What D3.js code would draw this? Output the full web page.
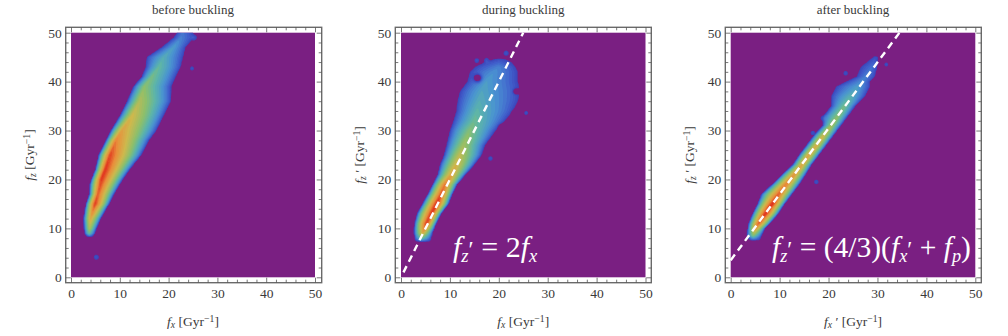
<!DOCTYPE html>
<html><head><meta charset="utf-8">
<script src="https://cdn.jsdelivr.net/npm/d3@7"></script>
<style>html,body{margin:0;padding:0;background:#fff}svg{display:block}text{font-family:"Liberation Serif",serif;fill:#3a3a3a}</style>
</head><body><svg id="c" width="1008" height="336"></svg>
<script>
const titles = ["before buckling", "during buckling", "after buckling"];
const majorTicks = [0, 10, 20, 30, 40, 50];
const minorTicks = [2,4,6,8,12,14,16,18,22,24,26,28,32,34,36,38,42,44,46,48];

const beforeY     = [8.3,9,10,12,14,15,17,19,20,22,25,28,30,33,36,39,41,43,45,47,49,50.5];
const beforeLeft  = [3.2,2.8,2.7,2.6,2.9,3.1,3.8,3.9,4.2,5,5.7,7.2,8.2,10,11.5,12.8,14.5,15.3,15.5,18.5,21,22];
const beforeRidge = [3.8,3.7,3.8,4.0,4.6,4.9,5.5,6.0,6.2,7,8,9.2,10.4,12.5,14,15,16.5,18,19,21,22.5,23];
const beforeRight = [4.4,4.9,5.2,6.1,7.2,7.8,8.8,10,10.6,12,14.4,16,17.5,19,20.5,20.6,21.5,22.5,23,23.5,25.2,25];
const beforePeak  = [.12,.45,.6,.74,.88,.95,.9,.93,.96,.96,.93,.84,.76,.68,.6,.52,.47,.42,.36,.3,.22,.18];
const beforeSpots = [[5.2,4.1,.45,.09],[24.8,42.7,.35,.09],[25.2,49,.5,.1]];

const duringY     = [7.3,8,9,10,11,13,15,17,19,21,23,25,27,30,32,34,36,38,40,42,43,44,44.6];
const duringLeft  = [3,2.8,2.7,2.7,2.8,3.3,4.4,5.5,6.5,7.5,8,8.8,9.3,10,10.7,11.3,11.5,12,13.5,14,15,17,19];
const duringRidge = [4.2,4.2,4.4,4.8,5.2,6.2,7.3,8.2,9,10.3,11.3,12,12.8,14,15,15.5,16,16.5,17.5,19,20,20,20];
const duringRight = [6,6.2,6.4,6.8,7.2,8.2,9.7,10.5,11.5,13.2,15,16.5,17.2,19.4,21.3,23,24,24.5,24,24,23.5,22.7,21.5];
const duringPeak  = [.12,.45,.72,.86,.95,.96,.98,.92,.86,.76,.7,.64,.57,.5,.44,.4,.36,.33,.3,.26,.22,.13,.07];
const duringSpots = [[15.5,44.3,.4,.1],[17.5,44.3,.45,.1],[18.3,24.3,.4,.09],[25.6,33.6,.35,.09],[21.5,45.8,.45,.1],
                     [15.7,40.7,.7,-.4],[23.5,38,.5,-.3],[20.6,30.6,.6,-.35],[23.2,33.5,.5,-.3]];
const duringLineX = [0.5, 25];
const duringLineY = [1, 50];

const afterY     = [7.6,8.5,10,11,13,15,17,19,21,23,25,27,29,31,33,35,37,39,40,41,43,45];
const afterLeft  = [3.8,3.3,3.5,3.7,4.5,5.5,6.3,8.5,10.5,12.7,14,15.5,17,18.8,19,20.5,20.5,21.5,23.5,25.7,26.5,29];
const afterRidge = [4.6,4.6,5.1,5.7,7.1,8.5,9.8,11.3,13,14.6,16,17.6,19,20.6,22,23.3,24.5,26,26.8,27.6,29,29.6];
const afterRight = [6,6.3,7,8,9.7,11,12.5,14,15.3,16.5,18,19.5,21,22.5,24,25.5,27.5,28.5,28.5,29.5,30,30.2];
const afterPeak  = [.12,.5,.8,.9,.98,.98,.9,.85,.8,.75,.75,.72,.68,.58,.52,.47,.38,.3,.25,.22,.18,.08];
const afterSpots = [[23.5,41.7,.4,.09],[17.5,19.5,.4,.09],[16.8,29.5,.4,.09],[31.8,43.5,.35,.08],[19,32.5,.5,.1]];
const afterLineX = [0, 34.5];
const afterLineY = [3.5, 50];

const colorStops = [0, .12, .25, .38, .5, .65, .8, .95];
const colorValues = ["#3b3fb5","#4160cc","#4a93d2","#5cb5aa","#8cbf6c","#cdb94e","#e98f3b","#e02a1c"];
const color = d3.scaleLinear().domain(colorStops).range(colorValues).clamp(true);

const panels = [
 {x0:71, x1:315, fl:65.7, fr:321.7, rows:[beforeY,beforeLeft,beforeRidge,beforeRight,beforePeak], spots:beforeSpots, xl:["f","x",""], yl:["f","z",""]},
 {x0:401, x1:645.5, fl:395.3, fr:651.3, rows:[duringY,duringLeft,duringRidge,duringRight,duringPeak], spots:duringSpots, xl:["f","x",""], yl:["f","z"," ′"], lx:duringLineX, ly:duringLineY, eq:"during"},
 {x0:730.7, x1:975.3, fl:725.3, fr:981.3, rows:[afterY,afterLeft,afterRidge,afterRight,afterPeak], spots:afterSpots, xl:["f","x"," ′"], yl:["f","z"," ′"], lx:afterLineX, ly:afterLineY, eq:"after"}
];
const yTop = 32.7, yBot = 277.3, fTop = 27.3, fBot = 282.7;
const frameColor = "#6a6a6a";
const svg = d3.select("#c");
const defs = svg.append("defs");
defs.append("filter").attr("id","soft").attr("x","-5%").attr("y","-5%").attr("width","110%").attr("height","110%")
  .append("feGaussianBlur").attr("stdDeviation",0.7);

const step = 0.25, n = Math.round(50/step)+1;
function density(p){
  const [Y,L,H,R,P] = p.rows, v = new Float64Array(n*n);
  const at = (a,y)=>d3.scaleLinear().domain(Y).range(a)(y);
  for(let j=0;j<n;j++){
    const y=j*step;
    if(y<Y[0]||y>Y[Y.length-1]) continue;
    const l=at(L,y), r=at(R,y), h=at(H,y), pk=at(P,y);
    for(let i=0;i<n;i++){
      const x=i*step;
      if(x<=l||x>=r) continue;
      const t = x<h ? (x-l)/(h-l) : (r-x)/(r-h);
      v[j*n+i]=pk*Math.pow(t,0.6);
    }
  }
  for(const [sx,sy,rad,amp] of p.spots){
    for(let j=0;j<n;j++)for(let i=0;i<n;i++){
      const d=((i*step-sx)**2+(j*step-sy)**2)/(rad*rad);
      if(d<9){ const k=j*n+i; v[k]=Math.max(0,v[k]+amp*Math.exp(-d)); }
    }
  }
  return v;
}
function fx(g,parts,size){
  g.append("tspan").attr("font-style","italic").text(parts[0]);
  g.append("tspan").attr("font-style","italic").attr("font-size",size*0.72).attr("dy",2).text(parts[1]);
  g.append("tspan").attr("font-size",size).attr("dy",-2).text((parts[2]||"")+" [Gyr");
  g.append("tspan").attr("font-size",size*0.72).attr("dy",-4).text("−1");
  g.append("tspan").attr("font-size",size).attr("dy",4).text("]");
}
panels.forEach((p,pi)=>{
  const sx=d3.scaleLinear().domain([0,50]).range([p.x0,p.x1]);
  const sy=d3.scaleLinear().domain([0,50]).range([yBot,yTop]);
  const g=svg.append("g");
  const cid="clip"+pi;
  defs.append("clipPath").attr("id",cid).append("rect").attr("x",p.x0).attr("y",yTop).attr("width",p.x1-p.x0).attr("height",yBot-yTop);
  g.append("rect").attr("x",p.x0).attr("y",yTop).attr("width",p.x1-p.x0).attr("height",yBot-yTop).attr("fill","#7a1f82");
  const th=d3.range(0.025,1,0.03);
  const cs=d3.contours().size([n,n]).thresholds(th)(density(p));
  const path=d3.geoPath(d3.geoTransform({point(x,y){this.stream.point(sx((x-.5)*step),sy((y-.5)*step));}}));
  g.append("g").attr("clip-path",`url(#${cid})`).append("g").attr("filter","url(#soft)")
    .selectAll("path").data(cs).join("path").attr("d",path).attr("fill",d=>color(d.value));
  if(p.lx){
    const ln=d3.line().x(d=>sx(d[0])).y(d=>sy(d[1]));
    g.append("path").attr("d",ln(d3.zip(p.lx,p.ly))).attr("fill","none").attr("stroke","#fff").attr("stroke-width",2.4).attr("stroke-dasharray","7 5");
  }
  g.append("rect").attr("x",p.fl).attr("y",fTop).attr("width",p.fr-p.fl).attr("height",fBot-fTop).attr("fill","none").attr("stroke",frameColor).attr("stroke-width",1.4);
  const styl=a=>{a.select(".domain").remove();a.selectAll("line").attr("stroke","#555").attr("stroke-width",0.8);a.selectAll("text").attr("font-size",13.5).attr("fill","#3a3a3a").attr("font-family","'Liberation Serif',serif");};
  const axX=(gen,y,vals,size,lab)=>{
    const a=g.append("g").attr("transform",`translate(0,${y})`).call(gen(sx).tickValues(vals).tickSize(size).tickPadding(6).tickFormat(lab?d3.format("d"):""));
    styl(a);
  };
  const axY=(gen,x,vals,size,lab)=>{
    const a=g.append("g").attr("transform",`translate(${x},0)`).call(gen(sy).tickValues(vals).tickSize(size).tickPadding(4).tickFormat(lab?d3.format("d"):""));
    styl(a);
  };
  axX(d3.axisBottom,fBot,majorTicks,-5,true); axX(d3.axisBottom,fBot,minorTicks,-3,false);
  axX(d3.axisTop,fTop,majorTicks,-5,false); axX(d3.axisTop,fTop,minorTicks,-3,false);
  axY(d3.axisLeft,p.fl,majorTicks,-5,true); axY(d3.axisLeft,p.fl,minorTicks,-3,false);
  axY(d3.axisRight,p.fr,majorTicks,-5,false); axY(d3.axisRight,p.fr,minorTicks,-3,false);
  const cx=(p.x0+p.x1)/2;
  g.append("text").attr("x",cx).attr("y",14).attr("text-anchor","middle").attr("font-size",13).text(titles[pi]);
  const xt=g.append("text").attr("x",cx).attr("y",326).attr("text-anchor","middle").attr("font-size",13.5);
  fx(xt,p.xl,13.5);
  const yt=g.append("text").attr("transform",`translate(${p.x0-37},155) rotate(-90)`).attr("text-anchor","middle").attr("font-size",13.5);
  fx(yt,p.yl,13.5);
  if(p.eq){
    const big=p.eq==="during"?30:29.5, subS=big*0.62, pr=big*0.78;
    const e=g.append("text").attr("x",p.eq==="during"?453:772).attr("y",257).attr("font-size",big);
    const w=(t,o={})=>{const s=e.append("tspan").text(t).style("fill","#fff");if(o.i)s.attr("font-style","italic");if(o.sub)s.attr("font-size",subS);if(o.dy!=null)s.attr("dy",o.dy);if(o.fs)s.attr("font-size",o.fs);return s;};
    w("f",{i:1}); w("z",{i:1,sub:1,dy:5}); w("′",{dy:-5,fs:pr});
    if(p.eq==="during"){ w(" = 2"); w("f",{i:1}); w("x",{i:1,sub:1,dy:5}); }
    else { w(" = (4/3)("); w("f",{i:1}); w("x",{i:1,sub:1,dy:5}); w("′",{dy:-5,fs:pr}); w(" + "); w("f",{i:1}); w("p",{i:1,sub:1,dy:5}); w(")",{dy:-5}); }
  }
});
</script></body></html>
